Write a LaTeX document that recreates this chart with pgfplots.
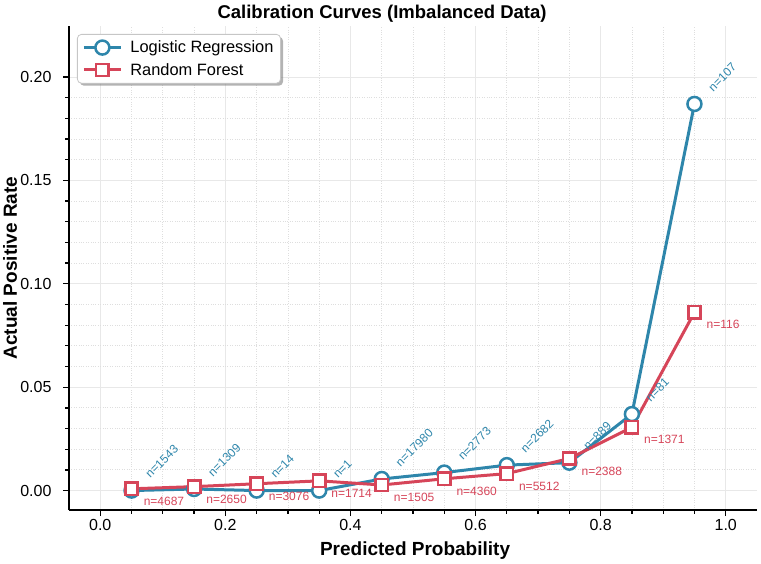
\documentclass[border=0pt]{standalone}
\usepackage{fontspec}
\setmainfont{Liberation Sans}
\usepackage{pgfplots}
\pgfplotsset{compat=1.18}
\usepackage{pgfplotstable}
\usetikzlibrary{shadows}

\definecolor{lrblue}{HTML}{2E86AB}
\definecolor{rfred}{RGB}{214,69,89}
\definecolor{gridmajor}{RGB}{232,232,232}
\definecolor{gridminor}{RGB}{222,222,222}

% keep the legend's drop shadow from spilling onto the legend samples
\makeatletter
\tikzset{no preactions/.code={\let\tikz@preactions\pgfutil@empty}}
\makeatother

% calibration bins: bin centre, observed positive rate, samples in bin
\pgfplotstableread{
x     y        n
0.05  0.0000   1543
0.15  0.00076  1309
0.25  0.0000   14
0.35  0.0000   1
0.45  0.0056   17980
0.55  0.0087   2773
0.65  0.0123   2682
0.75  0.0135   889
0.85  0.0370   81
0.95  0.1870   107
}\lrdata

\pgfplotstableread{
x     y        n
0.05  0.00085  4687
0.15  0.0019   2650
0.25  0.0033   3076
0.35  0.0047   1714
0.45  0.0027   1505
0.55  0.0057   4360
0.65  0.0082   5512
0.75  0.0155   2388
0.85  0.0306   1371
0.95  0.0862   116
}\rfdata

\begin{document}
\begin{tikzpicture}
\begin{axis}[
  at={(0,0)}, anchor=south west,
  scale only axis, width=688pt, height=484pt,
  xmin=-0.05, xmax=1.05, ymin=-0.0094, ymax=0.2247,
  clip=false,
  axis x line*=bottom, axis y line*=left,
  axis line style={-, line width=1.5pt, black},
  xtick={0,0.2,0.4,0.6,0.8,1.0},
  ytick={0,0.05,0.10,0.15,0.20},
  minor x tick num=3, minor y tick num=4,
  tick align=outside,
  major tick length=6pt, minor tick length=3.5pt,
  every tick/.style={black, line width=1.3pt},
  grid=both,
  major grid style={gridmajor, line width=0.8pt},
  minor grid style={gridminor, dotted, line width=0.8pt},
  tick label style={font=\fontsize{16}{19}\selectfont},
  /pgf/number format/assume math mode=true,
  xticklabel style={/pgf/number format/.cd, fixed, fixed zerofill, precision=1},
  yticklabel style={xshift=-8pt, /pgf/number format/.cd, fixed, fixed zerofill, precision=2},
  every axis title shift=0pt,
  title={Calibration Curves (Imbalanced Data)},
  title style={font=\bfseries\fontsize{18.5}{22}\selectfont,
    at={(axis description cs:0.455,1.0165)}, anchor=base},
  xlabel={Predicted Probability},
  xlabel style={font=\bfseries\fontsize{19}{22}\selectfont,
    at={(axis description cs:0.503,-0.095)}, anchor=base},
  ylabel={Actual Positive Rate},
  ylabel style={font=\bfseries\fontsize{19}{22}\selectfont,
    at={(axis description cs:-0.0756,0.5)}, anchor=base},
  legend cell align=left,
  legend image code/.code={
    \draw[no preactions, mark repeat=2, mark phase=2, #1]
      plot coordinates {(0pt,0pt) (18.5pt,0pt) (37pt,0pt)};},
  legend style={at={(axis description cs:0,1)}, anchor=north west,
    xshift=8pt, yshift=-8pt,
    font=\fontsize{16.4}{19}\selectfont,
    draw=gray!45, line width=0.8pt, fill=white, rounded corners=4pt,
    inner xsep=5pt, inner ysep=4.5pt,
    drop shadow={shadow xshift=2.5pt, shadow yshift=-2.5pt, fill=black!50, opacity=0.6},
    row sep=5pt, column sep=6pt},
]

\addplot[lrblue, line width=3pt,
  mark=*, mark size=7pt, mark options={fill=white, line width=2.5pt, solid},
  nodes near coords={n=\pgfplotspointmeta},
  point meta=explicit symbolic,
  every node near coord/.append style={shift={(19pt,10pt)}, rotate=45,
    anchor=south west, inner sep=0pt, text=lrblue,
    font=\fontsize{12}{14}\selectfont}]
  table[x=x, y=y, meta=n] {\lrdata};
\addlegendentry{Logistic Regression}

\addplot[rfred, line width=3pt,
  mark=square*, mark size=6.2pt, mark options={fill=white, line width=2.5pt, solid},
  nodes near coords={n=\pgfplotspointmeta},
  point meta=explicit symbolic,
  every node near coord/.append style={shift={(11pt,-7pt)},
    anchor=north west, inner sep=0pt, text=rfred,
    font=\fontsize{12}{14}\selectfont}]
  table[x=x, y=y, meta=n] {\rfdata};
\addlegendentry{Random Forest}

\end{axis}
\pgfresetboundingbox
\useasboundingbox (-69pt,-53pt) rectangle (692pt,510pt);
\end{tikzpicture}
\end{document}
